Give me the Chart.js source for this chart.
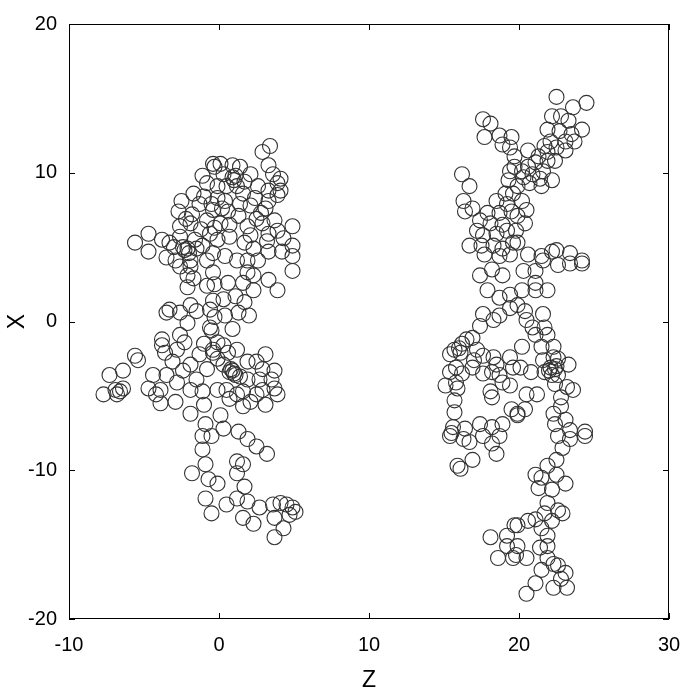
<!DOCTYPE html>
<html>
<head>
<meta charset="utf-8">
<script src="https://cdn.jsdelivr.net/npm/chart.js@4/dist/chart.umd.min.js"></script>
<style>html,body{margin:0;padding:0;background:#fff}</style>
</head>
<body>
<canvas id="chart" width="699" height="690"></canvas>
<script>
// [z, x] positions of the beads
const leftChain = [
  [-5.6,5.3],[-4.7,5.9],[-4.7,4.7],[-3.8,5.5],[-3.3,5.3],[-2.6,5.7],[-2.6,6.4],[-2.5,8.1],[-1.7,8.6],[-2.7,7.4],
  [-1.1,9.8],[-0.8,9.3],[-0.4,10.6],[-1.9,6.6],[-0.8,6.8],[-1.3,7.9],[-0.5,7.9],[-0.1,9.1],[-2.1,4.9],[-1.5,4.9],
  [-3.5,4.3],[-2.9,4.1],[-1.9,4.1],[-1.1,5.1],[-0.6,5.9],[-0.8,4.1],[-2.0,4.6],[-2.3,4.8],[-2.4,5.0],
  [-1.8,7.2],[-2.2,6.9],[-1.0,8.4],[-1.6,5.5],[-1.2,6.2],[-0.3,6.3],[-3.0,5.0],[-1.9,3.7],
  [3.4,11.8],[2.9,11.4],[3.3,10.5],[3.6,9.9],[4.1,9.6],[3.9,9.3],[3.3,8.8],[4.1,8.8],[2.6,9.1],[2.1,9.9],
  [1.4,10.4],[0.9,10.5],[0.1,10.6],[-0.3,10.4],[0.9,9.7],[0.5,9.1],[1.2,9.1],[1.6,8.6],[2.4,8.3],[3.3,8.1],
  [3.9,8.5],[3.1,7.6],[2.1,7.8],[1.4,7.9],[0.4,8.1],[-0.1,8.3],[-0.4,7.5],[0.6,7.4],[1.3,7.1],[2.5,6.9],
  [3.7,6.8],[4.9,6.4],[3.9,6.1],[2.9,6.6],[1.9,6.4],[0.7,6.5],[0.1,6.6],[2.1,5.8],[3.3,5.9],[4.3,5.6],
  [3.2,5.4],[4.9,5.1],[4.2,4.7],[3.3,4.7],[2.3,4.9],[1.7,5.3],[0.7,5.7],[-0.1,5.5],[1.2,4.1],[1.9,4.1],
  [2.6,4.1],[4.9,4.4],[0.4,4.4],[-0.4,4.6],[1.0,9.5],[1.1,9.8],[0.3,9.9],[1.7,9.4],[2.8,7.3],[0.2,7.6],
  [-7.7,-4.9],[-6.8,-4.9],[-6.4,-4.5],[-7.3,-3.6],[-6.4,-3.3],[-5.6,-2.3],[-5.4,-2.6],[-4.4,-3.6],[-4.7,-4.5],
  [-3.9,-4.6],[-3.8,-1.6],[-3.8,-1.2],[-3.6,-2.1],[-2.8,-1.9],[-2.6,-0.9],[-2.3,-1.4],[-1.9,-2.9],[-1.3,-2.2],
  [-0.8,-3.2],[-0.4,-1.9],[-0.6,-0.4],[-2.1,-0.1],[-2.6,0.6],[-3.3,0.8],[-3.5,0.6],[-1.9,1.1],[-1.5,0.7],
  [-0.6,0.8],[-2.1,2.3],[-0.8,2.4],[-2.1,3.1],[-1.7,2.9],[-2.6,3.7],[-0.4,3.3],[-3.5,-3.6],[-2.8,-4.1],
  [-1.9,-4.6],[-1.5,-3.9],[-1.1,-4.7],[-6.6,-4.7],[-6.9,-4.6],[-3.1,-2.7],[-2.4,-3.3],[-1.0,-1.5],[-4.2,-4.9],
  [4.9,3.4],[3.3,2.8],[3.9,2.1],[2.3,3.1],[1.9,3.3],[1.6,2.6],[2.3,2.1],[0.6,2.6],[-0.3,2.5],[1.1,1.7],
  [1.7,1.3],[0.3,1.5],[-0.4,1.4],[1.3,0.6],[0.4,0.4],[-0.3,0.3],[-0.5,-0.6],[-0.1,-1.4],[0.3,-1.6],[0.6,-2.1],
  [1.2,-1.9],[-0.4,-2.1],[3.1,-2.2],[2.5,-2.7],[1.9,-2.7],[2.9,-3.2],[3.7,-3.3],[3.5,-3.9],[2.7,-3.9],[0.9,-3.3],
  [0.7,-3.4],[0.3,-2.9],[-0.1,-2.5],[1.4,-3.7],[1.9,-3.9],[3.7,-4.5],[3.9,-4.9],[2.9,-4.6],[2.5,-4.9],[1.6,-4.7],
  [0.5,-4.6],[-0.1,-4.6],[1.2,-4.9],[0.7,-5.2],[2.1,-5.4],[1.0,-3.5],[1.1,-3.6],[0.8,-3.2],[0.9,-0.5],[2.0,0.4],
  [-1.9,-6.2],[-0.9,-6.9],[-1.1,-7.7],[-0.5,-7.7],[-1.1,-8.6],[-0.9,-9.6],[-1.8,-10.2],[-0.7,-10.6],[-0.1,-10.9],
  [-0.9,-11.9],[-0.5,-12.9],[-3.9,-5.5],[-2.9,-5.4],[-1.0,-5.6],
  [3.2,-8.9],[2.5,-8.4],[1.9,-7.9],[1.2,-9.4],[1.6,-9.6],[1.2,-10.2],[1.7,-11.1],[0.1,-6.3],[0.3,-7.2],[1.3,-7.4],
  [3.1,-5.6],[1.6,-5.7],[1.2,-11.9],[1.9,-12.1],[2.7,-12.5],[1.6,-13.2],[2.3,-13.6],[3.7,-13.2],[4.3,-13.9],
  [0.5,-12.3],[3.6,-12.3],[4.1,-12.2],[4.5,-12.3],[4.9,-12.5],[5.1,-12.8],[4.7,-13.0],[3.7,-14.5]
];
const rightChain = [
  [17.6,13.6],[18.1,13.3],[17.7,12.4],[18.7,12.5],[19.5,12.4],[18.9,11.9],[19.4,11.7],[19.7,11.1],[16.2,9.9],
  [16.7,9.1],[16.3,8.1],[16.4,7.4],[16.9,7.6],[19.4,10.1],[19.7,10.4],[19.3,9.5],[19.1,8.6],[18.5,8.1],[19.2,7.9],
  [19.6,8.6],[17.9,7.3],[18.7,7.3],[19.5,7.4],[17.4,6.8],[18.1,6.6],[18.9,6.5],[17.2,6.1],[17.6,5.8],[18.5,5.9],
  [19.2,6.1],[16.7,5.1],[17.5,5.1],[18.3,5.1],[18.9,4.9],[19.6,5.3],[17.7,4.5],[18.7,4.4],[19.4,4.5],
  [22.5,15.1],[23.6,14.4],[24.5,14.7],[22.8,13.8],[22.2,13.8],[23.3,13.5],[24.2,12.9],[21.9,12.9],[22.7,12.8],
  [23.5,12.6],[23.7,12.1],[23.1,12.1],[22.1,12.1],[22.5,11.7],[23.1,11.5],[21.7,11.8],[21.9,11.4],[21.3,11.1],
  [20.6,11.5],[21.1,10.7],[21.9,10.8],[22.4,10.8],[20.6,10.4],[20.2,10.1],[20.3,9.7],[20.9,9.9],[21.6,10.1],
  [21.4,9.6],[22.2,9.5],[20.7,9.3],[21.5,9.1],[19.9,9.1],[20.2,8.1],[20.5,7.5],[19.9,7.1],[20.4,6.6],[19.8,6.1],
  [19.9,5.3],[20.6,4.5],[21.5,4.4],[22.2,4.7],[22.5,4.8],[23.4,4.6],[24.2,4.1],
  [17.4,3.1],[18.2,3.5],[18.9,3.1],[17.9,2.1],[18.7,1.6],[19.4,0.9],[19.4,1.8],[17.6,0.5],[18.3,0.1],[18.7,0.4],
  [17.4,-0.3],[16.9,-1.1],[16.5,-1.2],[16.2,-1.5],[15.7,-1.9],[16.1,-2.1],[15.4,-2.2],[15.8,-3.1],[15.4,-3.4],
  [16.2,-3.5],[15.1,-4.3],[15.8,-4.1],[15.9,-4.5],[16.9,-3.1],[17.6,-2.3],[17.2,-1.9],[18.3,-2.4],[18.5,-2.9],
  [17.6,-3.5],[18.2,-3.4],[18.7,-3.6],[19.4,-2.4],[19.6,-3.1],[18.9,-4.1],[19.4,-4.3],[18.1,-4.7],[18.2,-5.1],
  [15.7,-5.3],[15.7,-6.1],[15.6,-7.1],[15.5,-7.5],[16.4,-7.2],[17.4,-6.9],[18.2,-7.1],[18.9,-6.9],[19.5,-5.9],
  [19.9,-6.2],[16.0,-1.8],[17.0,-2.6],
  [24.2,3.9],[23.4,3.9],[22.6,3.8],[21.6,4.1],[21.1,3.4],[20.3,3.4],[21.1,2.6],[21.9,2.1],[20.2,2.1],[21.1,2.1],
  [19.9,1.1],[20.4,0.7],[21.6,0.5],[20.5,0.1],[20.9,-0.4],[21.7,-0.4],[21.9,-0.9],[21.1,-0.9],[20.2,-1.7],
  [21.5,-1.7],[22.3,-1.7],[21.6,-2.6],[22.3,-2.4],[22.6,-2.5],[23.3,-2.9],[22.1,-3.1],[22.4,-3.2],[22.6,-3.6],
  [22.2,-3.6],[21.7,-3.4],[20.8,-3.4],[20.1,-3.1],[22.4,-4.2],[23.2,-4.4],[23.6,-4.6],[21.2,-4.9],[20.5,-4.9],
  [22.8,-5.1],[20.4,-5.9],[22.8,-5.7],[22.3,-6.2],[23.1,-6.6],[22.4,-6.9],[23.4,-7.3],[24.4,-7.4],[19.9,-6.3],
  [22.5,-3.0],[22.0,-3.3],
  [15.4,-7.7],[16.3,-7.9],[16.7,-8.1],[17.6,-7.7],[18.2,-8.2],[18.7,-7.7],[18.5,-8.9],[16.9,-9.3],[15.9,-9.7],
  [16.1,-9.9],[18.1,-14.5],[19.2,-14.4],[19.2,-15.1],[18.6,-15.9],[19.6,-15.9],[19.7,-13.7],
  [22.6,-7.7],[23.4,-7.9],[24.4,-7.7],[22.9,-8.5],[22.5,-9.3],[21.9,-9.7],[21.1,-10.3],[21.5,-10.5],[22.5,-10.3],
  [23.1,-10.9],[22.2,-11.3],[21.3,-11.2],[21.9,-12.2],[22.6,-12.7],[22.9,-12.9],[21.7,-12.9],[21.1,-13.3],
  [20.6,-13.4],[22.2,-13.4],[19.9,-13.7],[21.5,-13.9],[21.9,-14.4],[21.9,-15.1],[21.4,-15.2],[19.9,-15.1],
  [19.8,-15.7],[20.5,-15.9],[21.9,-15.9],[22.3,-16.3],[22.6,-16.4],[21.5,-16.7],[23.1,-16.9],[22.8,-17.3],
  [21.1,-17.6],[22.3,-17.9],[23.2,-17.9],[20.5,-18.3]
];
const zTicks = [-10, 0, 10, 20, 30];
const xTicks = [-20, -10, 0, 10, 20];

const toPoints = arr => arr.map(p => ({ x: p[0], y: p[1] }));

const ringStyle = {
  pointStyle: 'circle',
  pointRadius: 7.5,
  pointBorderWidth: 1.1,
  pointBorderColor: '#333',
  pointBackgroundColor: 'rgba(0,0,0,0)',
  showLine: false
};

// box round the plot plus short inward ticks
const frame = {
  id: 'frame',
  afterDatasetsDraw(chart) {
    const { ctx, chartArea: a, scales } = chart;
    ctx.save();
    ctx.strokeStyle = '#000';
    ctx.lineWidth = 1;
    ctx.strokeRect(a.left + 0.5, a.top + 0.5, a.right - a.left - 1, a.bottom - a.top - 1);
    ctx.beginPath();
    zTicks.forEach(v => {
      const px = Math.round(scales.x.getPixelForValue(v)) + 0.5;
      ctx.moveTo(px, a.bottom); ctx.lineTo(px, a.bottom - 6);
      ctx.moveTo(px, a.top); ctx.lineTo(px, a.top + 6);
    });
    xTicks.forEach(v => {
      const py = Math.round(scales.y.getPixelForValue(v)) + 0.5;
      ctx.moveTo(a.left, py); ctx.lineTo(a.left + 6, py);
      ctx.moveTo(a.right, py); ctx.lineTo(a.right - 6, py);
    });
    ctx.stroke();
    ctx.restore();
  }
};

const font = { family: 'Liberation Sans, Arial, sans-serif', size: 20 };

new Chart(document.getElementById('chart'), {
  type: 'scatter',
  data: {
    datasets: [
      { data: toPoints(leftChain), ...ringStyle },
      { data: toPoints(rightChain), ...ringStyle }
    ]
  },
  options: {
    responsive: false,
    animation: false,
    layout: { padding: { top: 19, right: 30, left: 0, bottom: 0 } },
    plugins: { legend: { display: false }, tooltip: { enabled: false } },
    scales: {
      x: {
        type: 'linear', min: -10, max: 30,
        afterBuildTicks: s => { s.ticks = zTicks.map(v => ({ value: v })); },
        afterFit: s => { s.height = 71; },
        grid: { display: false, drawTicks: false },
        border: { display: false },
        ticks: { color: '#000', font, padding: 14, maxRotation: 0 },
        title: { display: true, text: 'Z', color: '#000', font: { family: font.family, size: 23, lineHeight: 1 }, padding: { top: 0, bottom: -2 } }
      },
      y: {
        type: 'linear', min: -20, max: 20,
        afterBuildTicks: s => { s.ticks = xTicks.map(v => ({ value: v })); },
        afterFit: s => { s.width = 69; },
        grid: { display: false, drawTicks: false },
        border: { display: false },
        ticks: { color: '#000', font, padding: 12 },
        title: { display: true, text: 'X', color: '#000', font: { family: font.family, size: 23, lineHeight: 1 }, padding: { top: 6, bottom: 0 } }
      }
    }
  },
  plugins: [frame]
});
</script>
</body>
</html>
